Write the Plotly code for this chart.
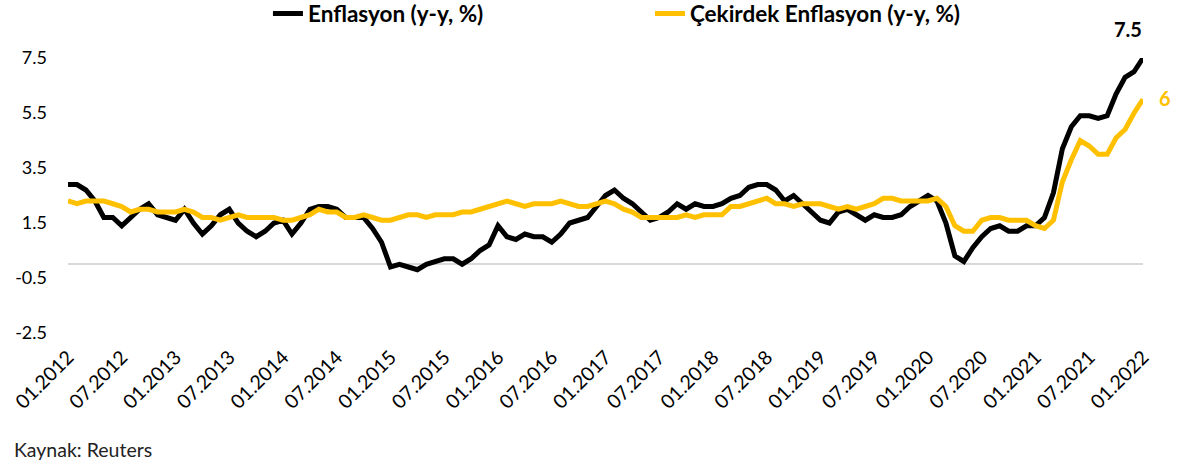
import pandas as pd
import plotly.graph_objects as go

# Monthly categories 01.2012 .. 01.2022
months = [d.strftime("%m.%Y") for d in pd.date_range("2012-01-01", "2022-01-01", freq="MS")]

headline = [
    2.9, 2.9, 2.7, 2.3, 1.7, 1.7, 1.4, 1.7, 2.0, 2.2, 1.8, 1.7,   # 2012
    1.6, 2.0, 1.5, 1.1, 1.4, 1.8, 2.0, 1.5, 1.2, 1.0, 1.2, 1.5,   # 2013
    1.6, 1.1, 1.5, 2.0, 2.1, 2.1, 2.0, 1.7, 1.7, 1.7, 1.3, 0.8,   # 2014
    -0.1, 0.0, -0.1, -0.2, 0.0, 0.1, 0.2, 0.2, 0.0, 0.2, 0.5, 0.7,  # 2015
    1.4, 1.0, 0.9, 1.1, 1.0, 1.0, 0.8, 1.1, 1.5, 1.6, 1.7, 2.1,   # 2016
    2.5, 2.7, 2.4, 2.2, 1.9, 1.6, 1.7, 1.9, 2.2, 2.0, 2.2, 2.1,   # 2017
    2.1, 2.2, 2.4, 2.5, 2.8, 2.9, 2.9, 2.7, 2.3, 2.5, 2.2, 1.9,   # 2018
    1.6, 1.5, 1.9, 2.0, 1.8, 1.6, 1.8, 1.7, 1.7, 1.8, 2.1, 2.3,   # 2019
    2.5, 2.3, 1.5, 0.3, 0.1, 0.6, 1.0, 1.3, 1.4, 1.2, 1.2, 1.4,   # 2020
    1.4, 1.7, 2.6, 4.2, 5.0, 5.4, 5.4, 5.3, 5.4, 6.2, 6.8, 7.0,   # 2021
    7.5,                                                          # 2022
]

core = [
    2.3, 2.2, 2.3, 2.3, 2.3, 2.2, 2.1, 1.9, 2.0, 2.0, 1.9, 1.9,   # 2012
    1.9, 2.0, 1.9, 1.7, 1.7, 1.6, 1.7, 1.8, 1.7, 1.7, 1.7, 1.7,   # 2013
    1.6, 1.6, 1.7, 1.8, 2.0, 1.9, 1.9, 1.7, 1.7, 1.8, 1.7, 1.6,   # 2014
    1.6, 1.7, 1.8, 1.8, 1.7, 1.8, 1.8, 1.8, 1.9, 1.9, 2.0, 2.1,   # 2015
    2.2, 2.3, 2.2, 2.1, 2.2, 2.2, 2.2, 2.3, 2.2, 2.1, 2.1, 2.2,   # 2016
    2.3, 2.2, 2.0, 1.9, 1.7, 1.7, 1.7, 1.7, 1.7, 1.8, 1.7, 1.8,   # 2017
    1.8, 1.8, 2.1, 2.1, 2.2, 2.3, 2.4, 2.2, 2.2, 2.1, 2.2, 2.2,   # 2018
    2.2, 2.1, 2.0, 2.1, 2.0, 2.1, 2.2, 2.4, 2.4, 2.3, 2.3, 2.3,   # 2019
    2.3, 2.4, 2.1, 1.4, 1.2, 1.2, 1.6, 1.7, 1.7, 1.6, 1.6, 1.6,   # 2020
    1.4, 1.3, 1.6, 3.0, 3.8, 4.5, 4.3, 4.0, 4.0, 4.6, 4.9, 5.5,   # 2021
    6.0,                                                          # 2022
]

y_ticks = [-2.5, -0.5, 1.5, 3.5, 5.5, 7.5]
x_tick_labels = months[::6]

BLACK = "#000000"
GOLD = "#FFC000"
FONT = "Lato"

idx = list(range(len(months)))

fig = go.Figure()
fig.add_trace(go.Scatter(x=idx, y=headline, mode="lines", name="<b>Enflasyon (y-y, %)</b>",
                         line=dict(color=BLACK, width=5), customdata=months,
                         hovertemplate="%{customdata}: %{y}<extra></extra>"))
fig.add_trace(go.Scatter(x=idx, y=core, mode="lines", name="<b>Çekirdek Enflasyon (y-y, %)</b>",
                         line=dict(color=GOLD, width=5), customdata=months,
                         hovertemplate="%{customdata}: %{y}<extra></extra>"))

fig.add_annotation(x=idx[-1], y=headline[-1], text=f"<b>{headline[-1]:g}</b>", showarrow=False,
                   xshift=-15, yshift=29, font=dict(family=FONT, size=20, color=BLACK))
fig.add_annotation(x=idx[-1], y=core[-1], text=f"<b>{core[-1]:g}</b>", showarrow=False,
                   xshift=22, yshift=1, font=dict(family=FONT, size=20, color=GOLD))
fig.add_annotation(xref="paper", yref="paper", x=-0.052, y=-0.425, xanchor="left", yanchor="middle",
                   text="Kaynak: Reuters", showarrow=False,
                   font=dict(family=FONT, size=19.5, color="#222222"))

fig.update_layout(
    width=1183, height=465,
    margin=dict(l=68, r=40, t=58, b=132),
    paper_bgcolor="white", plot_bgcolor="white",
    font=dict(family=FONT, color=BLACK),
    showlegend=True,
    legend=dict(orientation="h", xref="container", yref="container", x=0.2265, y=0.97,
                xanchor="left", yanchor="middle", font=dict(family=FONT, size=22.5, color=BLACK),
                entrywidth=337, entrywidthmode="pixels", bgcolor="rgba(0,0,0,0)"),
    xaxis=dict(range=[0, len(months) - 1], tickmode="array", tickvals=idx[::6], ticktext=x_tick_labels,
               tickangle=-45, showgrid=False, zeroline=False, showline=False, ticks="",
               tickfont=dict(family=FONT, size=19.5, color=BLACK), ticklabelstandoff=8,
               automargin=False),
    yaxis=dict(range=[-2.5, 7.5], tickmode="array", tickvals=y_ticks, ticktext=[f"{v:.1f}" for v in y_ticks],
               showgrid=False, zeroline=True, zerolinecolor="#d9d9d9", zerolinewidth=2, showline=False,
               ticks="", tickfont=dict(family=FONT, size=18, color=BLACK), ticklabelstandoff=20,
               automargin=False),
)

fig.write_html("out.html", config={"displayModeBar": False},
               post_script="document.body.style.margin='0';")
